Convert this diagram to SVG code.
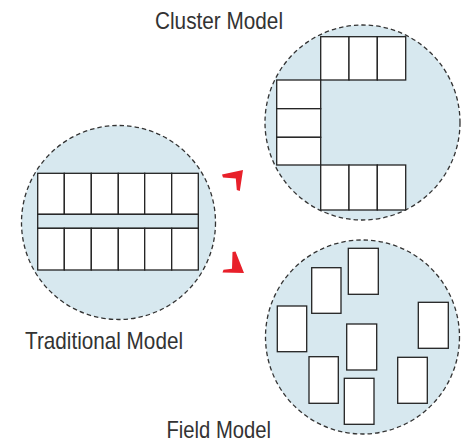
<svg xmlns="http://www.w3.org/2000/svg" width="461" height="442" viewBox="0 0 461 442">
<style>
.zone{fill:#d7e8ef;stroke:#333;stroke-width:1.3;stroke-dasharray:4.5 3}
.stall{fill:#fff;stroke:#222;stroke-width:1.3}
.band{fill:#d7e8ef;stroke:#222;stroke-width:1.3}
.lbl{font-family:"Liberation Sans",Arial,sans-serif;font-size:24px;fill:#333}
.arr{fill:#e8202a}
</style>
<rect width="461" height="442" fill="#fff"/>
<g id="traditional">
<circle class="zone" cx="118.5" cy="222.5" r="97"/>
<rect class="stall" x="37.7" y="173.3" width="26.6" height="41"/>
<rect class="stall" x="64.3" y="173.3" width="27" height="41"/>
<rect class="stall" x="91.3" y="173.3" width="27" height="41"/>
<rect class="stall" x="118.3" y="173.3" width="26.4" height="41"/>
<rect class="stall" x="144.7" y="173.3" width="27" height="41"/>
<rect class="stall" x="171.7" y="173.3" width="26.6" height="41"/>
<rect class="band" x="37.7" y="214.3" width="160.6" height="14"/>
<rect class="stall" x="37.7" y="228.3" width="26.6" height="41.7"/>
<rect class="stall" x="64.3" y="228.3" width="27" height="41.7"/>
<rect class="stall" x="91.3" y="228.3" width="27" height="41.7"/>
<rect class="stall" x="118.3" y="228.3" width="26.4" height="41.7"/>
<rect class="stall" x="144.7" y="228.3" width="27" height="41.7"/>
<rect class="stall" x="171.7" y="228.3" width="26.6" height="41.7"/>
<text class="lbl" x="25" y="349" textLength="158" lengthAdjust="spacingAndGlyphs">Traditional Model</text>
</g>
<g id="cluster">
<circle class="zone" cx="362.5" cy="122.5" r="97.5"/>
<rect class="stall" x="320.7" y="36.7" width="28.3" height="43.3"/>
<rect class="stall" x="349" y="36.7" width="28.3" height="43.3"/>
<rect class="stall" x="377.3" y="36.7" width="28.4" height="43.3"/>
<rect class="stall" x="276.7" y="80" width="44" height="28.7"/>
<rect class="stall" x="276.7" y="108.7" width="44" height="28.6"/>
<rect class="stall" x="276.7" y="137.3" width="44" height="27.7"/>
<rect class="stall" x="320.7" y="165" width="28.3" height="45"/>
<rect class="stall" x="349" y="165" width="28.3" height="45"/>
<rect class="stall" x="377.3" y="165" width="28.4" height="45"/>
<text class="lbl" x="155" y="28.5" textLength="128" lengthAdjust="spacingAndGlyphs">Cluster Model</text>
</g>
<g id="field">
<circle class="zone" cx="362.5" cy="337" r="97"/>
<rect class="stall" x="348.3" y="248.3" width="30" height="46"/>
<rect class="stall" x="311.7" y="267.7" width="29.3" height="45.6"/>
<rect class="stall" x="277.3" y="306" width="29.4" height="45.7"/>
<rect class="stall" x="418.3" y="302.3" width="30" height="46"/>
<rect class="stall" x="346.7" y="324" width="30" height="46"/>
<rect class="stall" x="309" y="356.7" width="29.3" height="46.6"/>
<rect class="stall" x="397.7" y="357.3" width="29.6" height="46"/>
<rect class="stall" x="344.3" y="378.3" width="29.7" height="46"/>
<text class="lbl" x="166.5" y="437.5" textLength="104.5" lengthAdjust="spacingAndGlyphs">Field Model</text>
</g>
<g id="connectors">
<polygon class="arr" points="222,174.5 243,170 239.8,191 236.8,190 235.8,178.6 223,177.6"/>
<polygon class="arr" points="232.5,252 235.5,251.5 244,273 222.5,272.5 223.5,269.8 232,268.8"/>
</g>
</svg>
